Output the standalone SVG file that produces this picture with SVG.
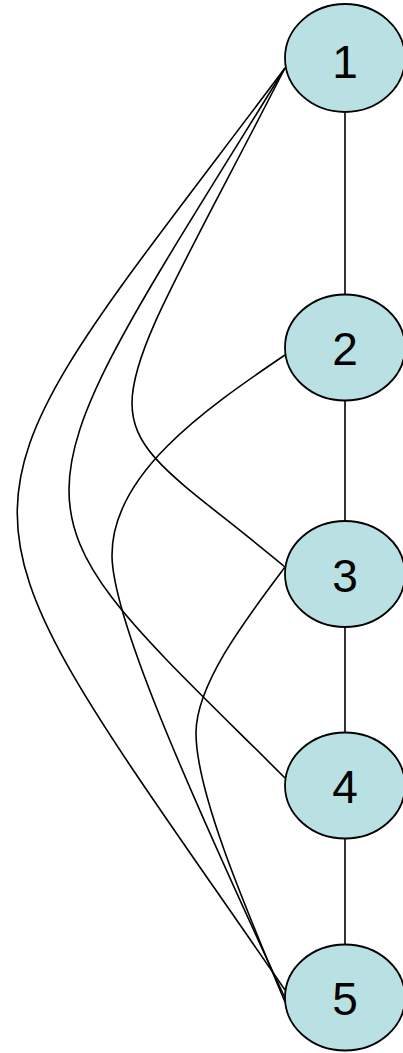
<svg xmlns="http://www.w3.org/2000/svg" width="403" height="1053" viewBox="0 0 403 1053">
<style>
.edge{fill:none;stroke:#000;stroke-width:1.6}
.node ellipse{fill:#B9E0E3;stroke:#000;stroke-width:1.8}
.node text{font-family:"Liberation Sans",Arial,sans-serif;font-size:46px;fill:#000;text-anchor:middle}
</style>
<rect width="403" height="1053" fill="#fff"/>
<g id="connectors">
<path class="edge" d="M345,112 L345,295"/>
<path class="edge" d="M345,400 L345,521"/>
<path class="edge" d="M345,627 L345,733"/>
<path class="edge" d="M345,838 L345,945"/>
<path class="edge" d="M285,68 C-72,544 -72,471 285,990"/>
<path class="edge" d="M285,68 C-3,534 -3,491 285,778"/>
<path class="edge" d="M285,68 C81,466 81,397 285,567"/>
<path class="edge" d="M285,355 C202,411 112,475 112,555 C112,615 180,772 285,998"/>
<path class="edge" d="M285,567 C249,615 196,683 196,733 C196,793 247,911 285,1002"/>
</g>
<g id="node1" class="node"><ellipse cx="345" cy="58" rx="60" ry="54"/><text x="345" y="78">1</text></g>
<g id="node2" class="node"><ellipse cx="345" cy="347.5" rx="60" ry="53"/><text x="345" y="365">2</text></g>
<g id="node3" class="node"><ellipse cx="345" cy="574" rx="60" ry="53"/><text x="345" y="592">3</text></g>
<g id="node4" class="node"><ellipse cx="345" cy="785.5" rx="60" ry="53"/><text x="345" y="803">4</text></g>
<g id="node5" class="node"><ellipse cx="345" cy="997.5" rx="60" ry="53"/><text x="345" y="1015">5</text></g>
</svg>
